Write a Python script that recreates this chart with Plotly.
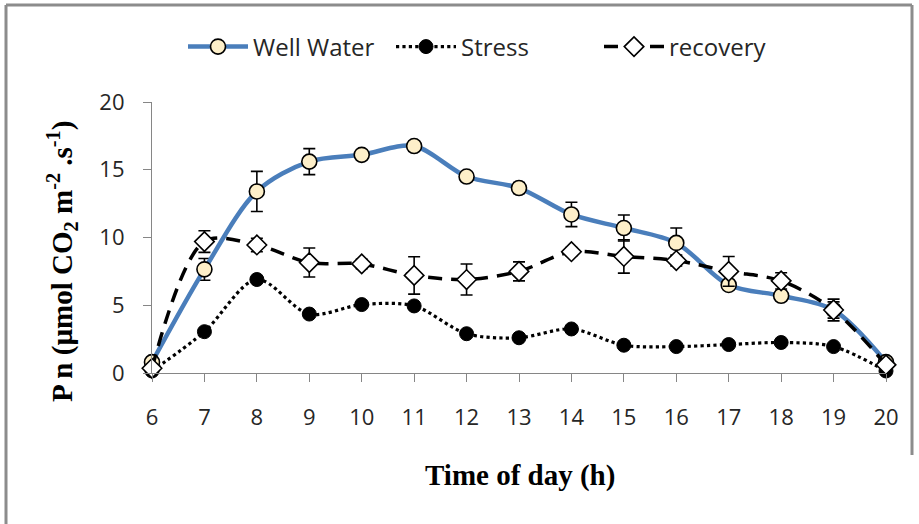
import plotly.graph_objects as go

# Net photosynthesis over the day (6 h to 20 h)
hours = [6, 7, 8, 9, 10, 11, 12, 13, 14, 15, 16, 17, 18, 19, 20]

well_water = [0.8, 7.65, 13.4, 15.6, 16.1, 16.75, 14.5, 13.65, 11.7, 10.7, 9.6, 6.5, 5.7, 4.65, 0.8]
well_water_err = [0.0, 0.8, 1.48, 0.96, 0.2, 0.35, 0.25, 0.4, 0.9, 0.96, 1.1, 0.3, 0.3, 0.8, 0.0]

stress = [0.15, 3.05, 6.9, 4.35, 5.05, 4.95, 2.9, 2.6, 3.25, 2.05, 1.95, 2.1, 2.25, 1.95, 0.15]

recovery = [0.35, 9.7, 9.45, 8.15, 8.05, 7.2, 6.9, 7.5, 8.95, 8.6, 8.3, 7.5, 6.8, 4.65, 0.6]
recovery_err = [0.0, 0.8, 0.5, 1.07, 0.35, 1.38, 1.14, 0.7, 0.3, 1.23, 0.4, 1.1, 0.6, 0.6, 0.0]

y_ticks = [0, 5, 10, 15, 20]

W, H = 919, 524
L, R, T, B = 152, 33, 102, 151
pw, ph = W - L - R, H - T - B


def px_x(x):
    return (x - L) / pw


def px_y(y):
    return (H - B - y) / ph


err_style = dict(type="data", visible=True, color="black", thickness=1.6, width=6)

fig = go.Figure()

fig.add_trace(go.Scatter(
    x=hours, y=well_water, name="Well Water", mode="lines+markers",
    line=dict(color="#4A7EBB", width=4.5, shape="spline", smoothing=0.9),
    marker=dict(symbol="circle", size=15, color="#FDEFC9",
                line=dict(color="black", width=1.6)),
    error_y=dict(array=well_water_err, **err_style),
    cliponaxis=False,
))

fig.add_trace(go.Scatter(
    x=hours, y=stress, name="Stress", mode="lines+markers",
    line=dict(color="black", width=3.2, dash="dot", shape="spline", smoothing=0.9),
    marker=dict(symbol="circle", size=14, color="black",
                line=dict(color="black", width=1)),
    cliponaxis=False,
))

fig.add_trace(go.Scatter(
    x=hours, y=recovery, name="recovery", mode="lines+markers",
    line=dict(color="black", width=3.5, dash="14px,9px", shape="spline", smoothing=0.9),
    marker=dict(symbol="diamond", size=15, color="white",
                line=dict(color="black", width=1.6)),
    error_y=dict(array=recovery_err, **err_style),
    cliponaxis=False,
))

axis_col = "#868686"
tick_font = dict(family="Open Sans", size=22, color="#262626")

fig.update_xaxes(
    range=[6, 20], tickmode="array", tickvals=hours, ticktext=[str(h) for h in hours],
    showline=True, linecolor=axis_col, linewidth=1.2, ticks="outside", ticklen=8,
    tickcolor=axis_col, showgrid=False, zeroline=False, tickfont=tick_font,
    ticklabelstandoff=16,
)
fig.update_yaxes(
    range=[0, 20], tickmode="array", tickvals=y_ticks,
    showline=True, linecolor=axis_col, linewidth=1.2, ticks="outside", ticklen=8,
    tickcolor=axis_col, showgrid=False, zeroline=False, tickfont=tick_font,
    ticklabelstandoff=14,
)

title_font = dict(family="Liberation Serif", size=29, color="black")

fig.add_annotation(
    text="<b>Time of day (h)</b>", xref="paper", yref="paper",
    x=px_x(520), y=px_y(475), showarrow=False, font=title_font,
    xanchor="center", yanchor="middle",
)
fig.add_annotation(
    text="<b>P n (µmol CO<sub>2</sub> m<sup>-2</sup> .s<sup>-1</sup>)</b>",
    xref="paper", yref="paper", x=px_x(62), y=px_y(262), textangle=-90,
    showarrow=False, font=title_font, xanchor="center", yanchor="middle",
)

# chart frame
frame = dict(color="#8C8C8C", width=3)
fig.add_shape(type="line", xref="paper", yref="paper",
              x0=px_x(6), x1=px_x(912), y0=px_y(5), y1=px_y(5), line=frame)
fig.add_shape(type="line", xref="paper", yref="paper",
              x0=px_x(6), x1=px_x(6), y0=px_y(5), y1=px_y(524), line=frame)
fig.add_shape(type="line", xref="paper", yref="paper",
              x0=px_x(912), x1=px_x(912), y0=px_y(5), y1=px_y(455), line=frame)

fig.update_layout(
    width=W, height=H,
    margin=dict(l=L, r=R, t=T, b=B),
    paper_bgcolor="white", plot_bgcolor="white",
    showlegend=True,
    legend=dict(
        orientation="h", xref="container", yref="container",
        x=495 / W, y=1 - 47 / H, xanchor="center", yanchor="middle",
        font=dict(family="Open Sans", size=24, color="#262626"),
        itemwidth=60, entrywidth=133, entrywidthmode="pixels",
        bgcolor="rgba(0,0,0,0)",
    ),
)

fig.write_html("out.html")
